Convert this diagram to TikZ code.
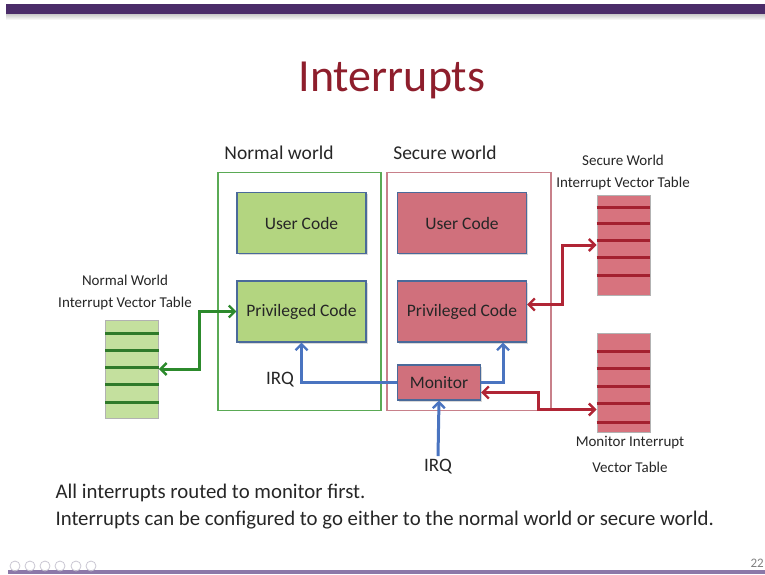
\documentclass[tikz,border=0pt]{standalone}
\usepackage{fontspec}
\setmainfont{Carlito}
\usetikzlibrary{shadows,arrows.meta}

\definecolor{barpurple}{HTML}{4B2C69}
\definecolor{linepurple}{HTML}{8C78A8}
\definecolor{titlered}{HTML}{8E1E2C}
\definecolor{gfill}{HTML}{B3D580}
\definecolor{rfill}{HTML}{D0707C}
\definecolor{boxedge}{HTML}{4A6A9A}
\definecolor{gworld}{HTML}{5AAA55}
\definecolor{rworld}{HTML}{C8808A}
\definecolor{garrow}{HTML}{2C8A2C}
\definecolor{rarrow}{HTML}{B02535}
\definecolor{barrow}{HTML}{4A74C0}
\definecolor{gtab}{HTML}{C4E09E}
\definecolor{gtabline}{HTML}{2F7A2A}
\definecolor{rtab}{HTML}{D7737E}
\definecolor{rtabline}{HTML}{A3202F}
\definecolor{txt}{HTML}{262626}
\definecolor{navgrey}{HTML}{C9C6D2}

\newcommand{\fsz}[1]{\fontsize{#1}{#1}\selectfont}

\tikzset{
  world/.style={draw, line width=1.5pt, fill=none},
  codebox/.style={draw=boxedge, line width=1.1pt, minimum width=129pt, minimum height=61pt,
    text=txt, font=\fsz{17.5},
    drop shadow={shadow xshift=1.5pt, shadow yshift=-1.5pt, opacity=0.3, fill=gray}},
  vtable/.style={draw=gray!60, line width=0.8pt, minimum width=53pt},
  lbl/.style={text=txt, align=center},
  tip/.style={arrows={-Straight Barb[length=6pt,width=12pt,line width=2.4pt]}},
  conn/.style={line width=3pt, arrows={-Straight Barb[length=6pt,width=12pt,line width=2.4pt]}},
  conn2/.style={line width=3pt, arrows={Straight Barb[length=6pt,width=12pt,line width=2.4pt]-Straight Barb[length=6pt,width=12pt,line width=2.4pt]}},
}

\begin{document}
\begin{tikzpicture}[x=1pt, y=-1pt]
\useasboundingbox (0,0) rectangle (765,575);

% header bar and footer line
\fill[barpurple] (6,4) rectangle (765,15);
\shade[top color=gray!35, bottom color=white] (6,15) rectangle (765,20);
\fill[linepurple] (8,570) rectangle (765,574);
\foreach \cx in {15,30,45,60,76,91}
  \draw[navgrey, line width=0.8pt] (\cx,566) circle (5);
\node[anchor=east, text=gray, font=\fsz{13}, inner sep=1pt] (pg) at (765,563) {22};

% title
\node[text=titlered, font=\fsz{46}] (title) at (392,80) {Interrupts};

% the two worlds
\node[world, draw=gworld, minimum width=163pt, minimum height=238pt] (nw) at (299.5,291.5) {};
\node[world, draw=rworld, minimum width=164pt, minimum height=238pt] (sw) at (469,291.5) {};
\node[lbl, font=\fsz{19.5}] (nwl) at (279,153) {Normal world};
\node[lbl, font=\fsz{19.5}] (swl) at (445,153) {Secure world};

% code boxes
\node[codebox, fill=gfill] (nuc) at (301.5,223) {User Code};
\node[codebox, fill=gfill] (npc) at (301.5,311.5) {Privileged Code};
\node[codebox, fill=rfill] (suc) at (462,223) {User Code};
\node[codebox, fill=rfill] (spc) at (462,311.5) {Privileged Code};
\node[codebox, fill=rfill, minimum width=83pt, minimum height=35pt] (mon) at (439,382.5) {Monitor};

% vector tables
\node[vtable, fill=gtab, minimum height=98pt] (nvt) at (132,369) {};
\foreach \yy in {333,350,367,384,402}
  \draw[gtabline, line width=3pt] (nvt.west |- 0,\yy) -- (nvt.east |- 0,\yy);
\node[vtable, fill=rtab, minimum height=100pt] (svt) at (623.5,245) {};
\foreach \yy in {207,223,240,257,275}
  \draw[rtabline, line width=3pt] (svt.west |- 0,\yy) -- (svt.east |- 0,\yy);
\node[vtable, fill=rtab, minimum height=99pt] (mvt) at (623.5,382.5) {};
\foreach \yy in {351,368,386,403,422}
  \draw[rtabline, line width=3pt] (mvt.west |- 0,\yy) -- (mvt.east |- 0,\yy);

% table labels
\node[lbl, font=\fsz{15}] (nvtl1) at (125,280) {Normal World};
\node[lbl, font=\fsz{15}] (nvtl2) at (125,303) {Interrupt Vector Table};
\node[lbl, font=\fsz{15}] (svtl1) at (623,160) {Secure World};
\node[lbl, font=\fsz{15}] (svtl2) at (623,184) {Interrupt Vector Table};
\node[lbl, font=\fsz{15}] (mvtl1) at (630,443) {Monitor Interrupt};
\node[lbl, font=\fsz{15}] (mvtl2) at (630,467) {Vector Table};

% IRQ labels
\node[lbl, font=\fsz{19}] (irq1) at (280,380) {IRQ};
\node[lbl, font=\fsz{19}] (irq2) at (438,467) {IRQ};

% routing points
\coordinate (gx) at (199,340);
\coordinate (rx) at (562,275);
\coordinate (mx) at (538,401.5);

% connectors
\draw[conn2, garrow] (nvt.east) -| (gx) |- (npc.west);
\draw[conn2, rarrow] (svt.west) -| (rx) |- ([yshift=7pt]spc.east);
\draw[conn2, rarrow] ([yshift=-10pt]mon.east) -| (mx) |- ([yshift=-27pt]mvt.west);
\draw[conn, barrow] (mon.west) -| (npc.south);
\draw[conn, barrow] (mon.east) -| ([xshift=41pt]spc.south);
\draw[conn, barrow] (irq2.north) -- (mon.south);

% notes
\node[anchor=west, text=txt, font=\fsz{20.8}] (n1) at (52,493) {All interrupts routed to monitor first.};
\node[anchor=west, text=txt, font=\fsz{20.8}] (n2) at (52,520) {Interrupts can be configured to go either to the normal world or secure world.};
\end{tikzpicture}
\end{document}
